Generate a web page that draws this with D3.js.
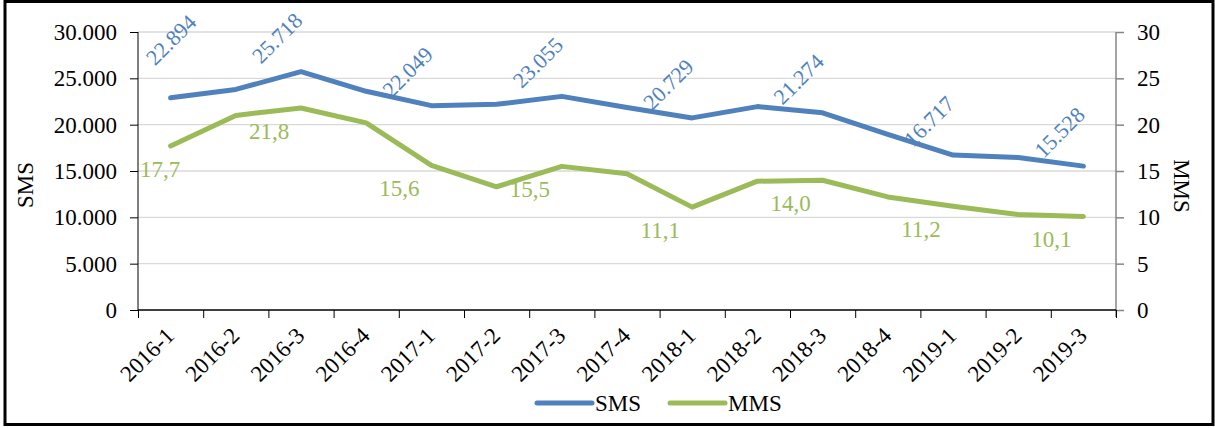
<!DOCTYPE html>
<html>
<head>
<meta charset="utf-8">
<script src="https://cdn.jsdelivr.net/npm/d3@7"></script>
<style>
  body { margin: 0; background: #fff; }
  svg text { font-family: "Liberation Serif", "Times New Roman", serif; }
</style>
</head>
<body>
<div id="chart"></div>
<script>
// quarters on the x axis
var quarters = ["2016-1","2016-2","2016-3","2016-4","2017-1","2017-2","2017-3","2017-4",
                "2018-1","2018-2","2018-3","2018-4","2019-1","2019-2","2019-3"];

// SMS (left axis) and MMS (right axis)
var smsValues = [22894, 23800, 25718, 23600, 22049, 22200, 23055, 21850,
                 20729, 21950, 21274, 18950, 16717, 16450, 15528];
var mmsValues = [17.7, 21.0, 21.8, 20.2, 15.6, 13.3, 15.5, 14.7,
                 11.1, 13.9, 14.0, 12.2, 11.2, 10.3, 10.1];

var leftTicks = [0, 5000, 10000, 15000, 20000, 25000, 30000];
var rightTicks = [0, 5, 10, 15, 20, 25, 30];
var seriesNames = ["SMS", "MMS"];
var seriesColors = ["#4f81bd", "#9bbb59"];

var W = 1215, H = 428;
var plotLeft = 138, plotRight = 1116, plotTop = 32, plotBottom = 310;

// Turkish style numbers: 22.894 and 17,7
var loc = d3.formatLocale({decimal: ",", thousands: ".", grouping: [3], currency: ["", ""]});
var fmtInt = loc.format(",d");
var fmt1 = loc.format(",.1f");

var svg = d3.select("#chart").append("svg")
    .attr("width", W)
    .attr("height", H);

// outer frame
svg.append("rect")
   .attr("x", 5).attr("y", 1.5)
   .attr("width", 1208).attr("height", 423)
   .attr("fill", "none")
   .attr("stroke", "#000")
   .attr("stroke-width", 3);

var x = d3.scaleBand().domain(quarters).range([plotLeft, plotRight]).padding(0);
var xEdge = d3.scaleLinear().domain([0, quarters.length]).range([plotLeft, plotRight]);
var ySms = d3.scaleLinear().domain([0, 30000]).range([plotBottom, plotTop]);
var yMms = d3.scaleLinear().domain([0, 30]).range([plotBottom, plotTop]);

function cx(d) { return x(d) + x.bandwidth() / 2; }

// gridlines
svg.append("g")
   .selectAll("line")
   .data(leftTicks.slice(1))
   .enter().append("line")
   .attr("x1", plotLeft).attr("x2", plotRight)
   .attr("y1", function(d){ return ySms(d); })
   .attr("y2", function(d){ return ySms(d); })
   .attr("stroke", "#d9d9d9")
   .attr("stroke-width", 1.3);

// left axis
var gl = svg.append("g")
   .attr("transform", "translate(" + plotLeft + ",0)")
   .call(d3.axisLeft(ySms).tickValues(leftTicks).tickFormat(fmtInt).tickSize(8).tickPadding(13));
gl.selectAll("text").attr("font-size", 23).attr("fill", "#000");
gl.selectAll("line,path").attr("stroke", "#000");
gl.select(".domain").attr("d", "M0," + plotTop + "V" + plotBottom);

// right axis
var gr = svg.append("g")
   .attr("transform", "translate(" + plotRight + ",0)")
   .call(d3.axisRight(yMms).tickValues(rightTicks).tickSize(8).tickPadding(13));
gr.selectAll("text").attr("font-size", 23).attr("fill", "#000");
gr.selectAll("line,path").attr("stroke", "#868686").attr("stroke-width", 1.5);
gr.select(".domain").attr("d", "M0," + plotTop + "V" + (plotBottom + 7));

// bottom axis: ticks on category edges
var gb = svg.append("g")
   .attr("transform", "translate(0," + plotBottom + ")")
   .call(d3.axisBottom(xEdge).tickValues(d3.range(quarters.length + 1)).tickFormat("").tickSize(8));
gb.selectAll("line,path").attr("stroke", "#000");
gb.select(".domain").attr("d", "M" + plotLeft + ",0H" + plotRight).attr("stroke-width", 1.3);

// category labels
svg.append("g")
   .selectAll("text")
   .data(quarters)
   .enter().append("text")
   .attr("transform", function(d){ return "translate(" + (cx(d) + 5) + "," + (plotBottom + 27) + ") rotate(-45)"; })
   .attr("text-anchor", "end")
   .attr("font-size", 23)
   .attr("fill", "#000")
   .text(function(d){ return d; });

// axis titles
svg.append("text")
   .attr("transform", "translate(33,185) rotate(-90)")
   .attr("text-anchor", "middle")
   .attr("font-size", 23)
   .text(seriesNames[0]);
svg.append("text")
   .attr("transform", "translate(1174,186) rotate(90)")
   .attr("text-anchor", "middle")
   .attr("font-size", 23)
   .text(seriesNames[1]);

// lines
var smsLine = d3.line()
    .x(function(d, i){ return cx(quarters[i]); })
    .y(function(d){ return ySms(d); });
var mmsLine = d3.line()
    .x(function(d, i){ return cx(quarters[i]); })
    .y(function(d){ return yMms(d); });

svg.append("path")
   .datum(mmsValues)
   .attr("d", mmsLine)
   .attr("fill", "none")
   .attr("stroke", seriesColors[1])
   .attr("stroke-width", 5)
   .attr("stroke-linejoin", "round")
   .attr("stroke-linecap", "round");

svg.append("path")
   .datum(smsValues)
   .attr("d", smsLine)
   .attr("fill", "none")
   .attr("stroke", seriesColors[0])
   .attr("stroke-width", 5)
   .attr("stroke-linejoin", "round")
   .attr("stroke-linecap", "round");

// data labels on every other quarter
var labelIdx = d3.range(0, quarters.length, 2);

svg.append("g")
   .selectAll("text")
   .data(labelIdx)
   .enter().append("text")
   .attr("transform", function(i){
       var px = cx(quarters[i]) - 40, py = ySms(smsValues[i]) - 7;
       var shift = Math.max(0, plotLeft + 17 - px);   // keep inside the plot
       return "translate(" + (px + shift) + "," + (py - shift) + ") rotate(-45)";
   })
   .attr("font-size", 22)
   .attr("fill", seriesColors[0])
   .text(function(i){ return fmtInt(smsValues[i]); });

svg.append("g")
   .selectAll("text")
   .data(labelIdx)
   .enter().append("text")
   .attr("x", function(i){ return Math.max(cx(quarters[i]) - 32, plotLeft + 22); })
   .attr("y", function(i){ return yMms(mmsValues[i]) + 31; })
   .attr("text-anchor", "middle")
   .attr("font-size", 23)
   .attr("fill", seriesColors[1])
   .text(function(i){ return fmt1(mmsValues[i]); });

// legend
var legend = svg.append("g")
   .selectAll("g")
   .data(seriesNames)
   .enter().append("g")
   .attr("transform", function(d, i){ return "translate(" + (537 + i * 133) + ",403)"; });
legend.append("line")
   .attr("x1", 0).attr("x2", 55)
   .attr("stroke", function(d, i){ return seriesColors[i]; })
   .attr("stroke-width", 5)
   .attr("stroke-linecap", "round");
legend.append("text")
   .attr("x", 58).attr("y", 8)
   .attr("font-size", 23)
   .text(function(d){ return d; });
</script>
</body>
</html>
